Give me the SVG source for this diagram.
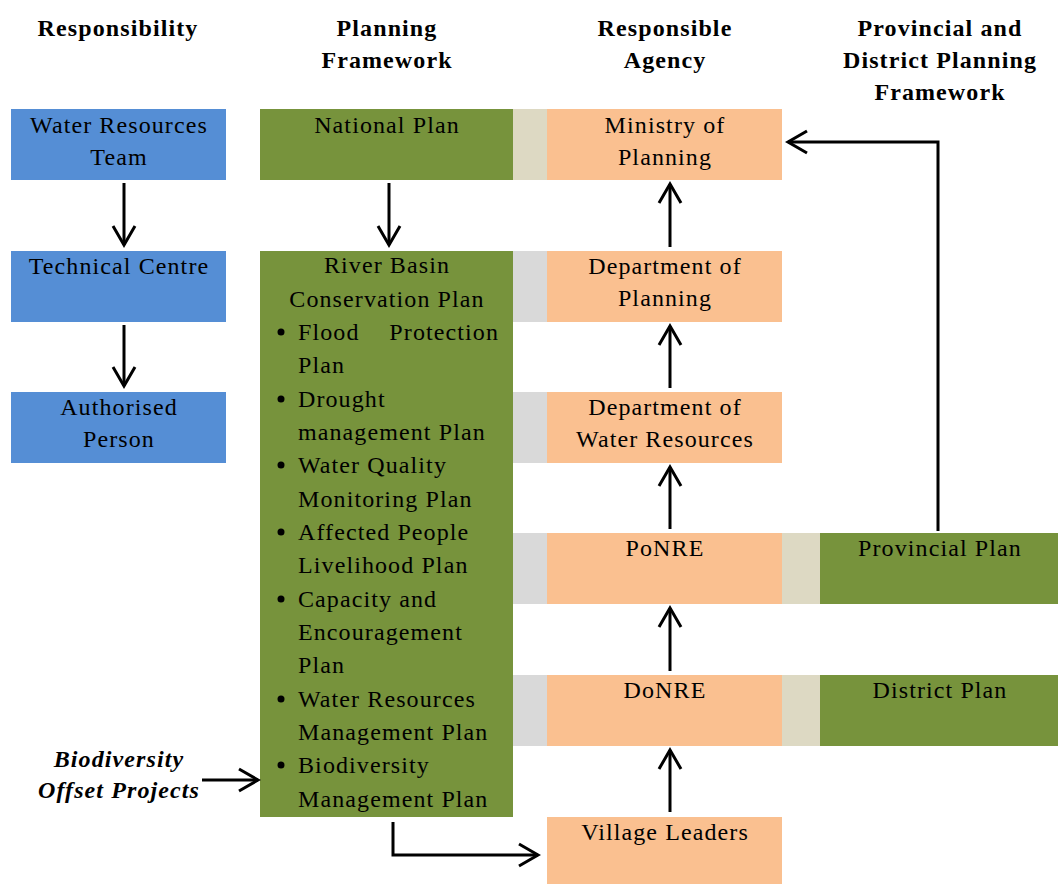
<svg xmlns="http://www.w3.org/2000/svg" width="1058" height="884" viewBox="0 0 1058 884">
<style>
text{font-family:"Liberation Serif","Times New Roman",serif;font-size:24px;letter-spacing:1.1px;fill:#000}
.h{font-weight:bold;text-anchor:middle}
.c{text-anchor:middle}
.bi{font-weight:bold;font-style:italic;text-anchor:middle}
.blue{fill:#558ED5}
.green{fill:#77933C}
.orange{fill:#FAC090}
.beige{fill:#DDD9C3}
.grey{fill:#D9D9D9}
.conn{fill:none;stroke:#000;stroke-width:3;marker-end:url(#ah)}
</style>
<defs>
<marker id="ah" markerUnits="userSpaceOnUse" viewBox="-22 -14 26 28" refX="0" refY="0" markerWidth="26" markerHeight="28" orient="auto">
<path d="M-19,-11 L0,0 L-19,11" fill="none" stroke="#000" stroke-width="3"/>
</marker>
</defs>
<rect width="1058" height="884" fill="#fff"/>
<g id="headers">
<text class="h" x="118" y="36">Responsibility</text>
<text class="h" x="387" y="36">Planning</text>
<text class="h" x="387" y="68">Framework</text>
<text class="h" x="665" y="36">Responsible</text>
<text class="h" x="665" y="68">Agency</text>
<text class="h" x="940" y="36">Provincial and</text>
<text class="h" x="940" y="68">District Planning</text>
<text class="h" x="940" y="100">Framework</text>
</g>
<g id="water-resources-team">
<rect class="blue" x="11" y="109" width="215" height="71"/>
<text class="c" x="119" y="133">Water Resources</text>
<text class="c" x="119" y="165">Team</text>
</g>
<g id="technical-centre">
<rect class="blue" x="11" y="251" width="215" height="71"/>
<text class="c" x="119" y="274">Technical Centre</text>
</g>
<g id="authorised-person">
<rect class="blue" x="11" y="392" width="215" height="71"/>
<text class="c" x="119" y="415">Authorised</text>
<text class="c" x="119" y="447">Person</text>
</g>
<g id="national-plan">
<rect class="green" x="260" y="109" width="253" height="71"/>
<text class="c" x="387" y="133">National Plan</text>
</g>
<g id="river-basin-plan">
<rect class="green" x="260" y="251" width="253" height="566"/>
<text class="c" x="387" y="273">River Basin</text>
<text class="c" x="387" y="307">Conservation Plan</text>
<g>
<circle cx="281" cy="332" r="3.5"/>
<text x="298" y="340">Flood</text>
<text x="499" y="340" text-anchor="end">Protection</text>
<text x="298" y="373">Plan</text>
<circle cx="281" cy="399" r="3.5"/>
<text x="298" y="407">Drought</text>
<text x="298" y="440">management Plan</text>
<circle cx="281" cy="465" r="3.5"/>
<text x="298" y="473">Water Quality</text>
<text x="298" y="507">Monitoring Plan</text>
<circle cx="281" cy="532" r="3.5"/>
<text x="298" y="540">Affected People</text>
<text x="298" y="573">Livelihood Plan</text>
<circle cx="281" cy="599" r="3.5"/>
<text x="298" y="607">Capacity and</text>
<text x="298" y="640">Encouragement</text>
<text x="298" y="673">Plan</text>
<circle cx="281" cy="699" r="3.5"/>
<text x="298" y="707">Water Resources</text>
<text x="298" y="740">Management Plan</text>
<circle cx="281" cy="765" r="3.5"/>
<text x="298" y="773">Biodiversity</text>
<text x="298" y="807">Management Plan</text>
</g>
</g>
<g id="biodiversity-offset">
<text class="bi" x="119" y="767">Biodiversity</text>
<text class="bi" x="119" y="798">Offset Projects</text>
</g>
<g id="ministry-of-planning">
<rect class="beige" x="513" y="109" width="34" height="71"/>
<rect class="orange" x="547" y="109" width="235" height="71"/>
<text class="c" x="665" y="133">Ministry of</text>
<text class="c" x="665" y="165">Planning</text>
</g>
<g id="department-of-planning">
<rect class="grey" x="513" y="251" width="34" height="71"/>
<rect class="orange" x="547" y="251" width="235" height="71"/>
<text class="c" x="665" y="274">Department of</text>
<text class="c" x="665" y="306">Planning</text>
</g>
<g id="department-of-water-resources">
<rect class="grey" x="513" y="392" width="34" height="71"/>
<rect class="orange" x="547" y="392" width="235" height="71"/>
<text class="c" x="665" y="415">Department of</text>
<text class="c" x="665" y="447">Water Resources</text>
</g>
<g id="ponre">
<rect class="grey" x="513" y="533" width="34" height="71"/>
<rect class="orange" x="547" y="533" width="235" height="71"/>
<text class="c" x="665" y="556">PoNRE</text>
</g>
<g id="donre">
<rect class="grey" x="513" y="675" width="34" height="71"/>
<rect class="orange" x="547" y="675" width="235" height="71"/>
<text class="c" x="665" y="698">DoNRE</text>
</g>
<g id="village-leaders">
<rect class="orange" x="547" y="817" width="235" height="67"/>
<text class="c" x="665" y="840">Village Leaders</text>
</g>
<g id="provincial-plan">
<rect class="beige" x="782" y="533" width="38" height="71"/>
<rect class="green" x="820" y="533" width="238" height="71"/>
<text class="c" x="940" y="556">Provincial Plan</text>
</g>
<g id="district-plan">
<rect class="beige" x="782" y="675" width="38" height="71"/>
<rect class="green" x="820" y="675" width="238" height="71"/>
<text class="c" x="940" y="698">District Plan</text>
</g>
<g id="connectors">
<path class="conn" d="M124,183 V245"/>
<path class="conn" d="M124,325 V386"/>
<path class="conn" d="M389,183 V245"/>
<path class="conn" d="M670,247 V184"/>
<path class="conn" d="M670,388 V326"/>
<path class="conn" d="M670,529 V467"/>
<path class="conn" d="M670,671 V608"/>
<path class="conn" d="M670,812 V750"/>
<path class="conn" d="M938,531 V142 H788"/>
<path class="conn" d="M202,780 H258"/>
<path class="conn" d="M393,822 V855 H538"/>
</g>
</svg>
